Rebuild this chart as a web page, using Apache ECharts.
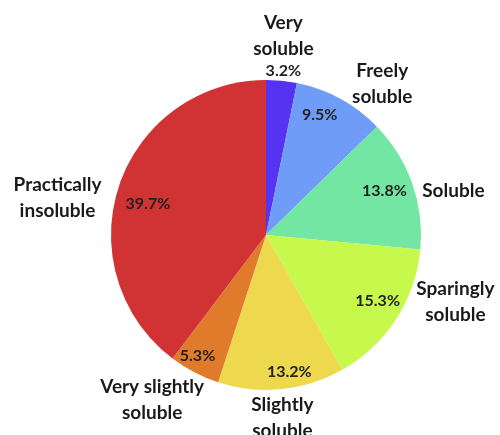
<!DOCTYPE html>
<html>
<head>
<meta charset="utf-8">
<script src="https://cdn.jsdelivr.net/npm/echarts@6/dist/echarts.min.js"></script>
<style>
  html, body { margin: 0; padding: 0; background: #fff; }
  #chart { width: 500px; height: 435px; }
</style>
</head>
<body>
<div id="chart"></div>
<script>
// Solubility classes, clockwise from 12 o'clock
const categories = [
  'Very\nsoluble',
  'Freely\nsoluble',
  'Soluble',
  'Sparingly\nsoluble',
  'Slightly\nsoluble',
  'Very slightly\nsoluble',
  'Practically\ninsoluble'
];
const shares = [3.2, 9.5, 13.8, 15.3, 13.2, 5.3, 39.7];
const colors = ['#5533f0', '#6e9cf7', '#73e6a4', '#c6f94c', '#eed84e', '#e07b2c', '#d13233'];

// small nudges for the label text (dx, dy)
const pctNudge = [[4, -32], [-10, -3], [-7, 0], [0, -6], [10, 5], [-7, 3], [8, 11]];
const nameNudge = [[-3, 3], [19, 27], [-4, 24], [19, -43], [-4, -19], [-20, -15], [-16, 28]];

const center = ['53.2%', '54%'];
const font = 'Lato, "Open Sans", sans-serif';

const sliceData = shares.map((v, i) => ({ value: v, name: categories[i], itemStyle: { color: colors[i] } }));
const ghostData = shares.map((v, i) => ({ value: v, name: categories[i] }));

const chart = echarts.init(document.getElementById('chart'), null, { renderer: 'canvas' });
chart.setOption({
  animation: false,
  series: [
    {
      type: 'pie',
      center: center,
      radius: [0, 155],
      startAngle: 90,
      clockwise: true,
      silent: true,
      data: sliceData,
      label: { show: false },
      labelLine: { show: false },
      itemStyle: { borderWidth: 0 }
    },
    {
      // percentage labels
      type: 'pie',
      center: center,
      radius: [100, 160],
      startAngle: 90,
      clockwise: true,
      silent: true,
      data: ghostData,
      itemStyle: { color: 'rgba(0,0,0,0)' },
      label: {
        show: true,
        position: 'inside',
        formatter: p => p.value.toFixed(1) + '%',
        fontFamily: font,
        fontWeight: 'bold',
        fontSize: 16,
        color: '#222'
      },
      labelLine: { show: false },
      labelLayout: p => ({ dx: pctNudge[p.dataIndex][0], dy: pctNudge[p.dataIndex][1] })
    },
    {
      // category labels
      type: 'pie',
      center: center,
      radius: [170, 230],
      startAngle: 90,
      clockwise: true,
      silent: true,
      data: ghostData,
      itemStyle: { color: 'rgba(0,0,0,0)' },
      label: {
        show: true,
        position: 'inside',
        formatter: '{b}',
        fontFamily: font,
        fontWeight: 'bold',
        fontSize: 19,
        lineHeight: 26,
        color: '#1a1a1a',
        align: 'center'
      },
      labelLine: { show: false },
      labelLayout: p => ({ dx: nameNudge[p.dataIndex][0], dy: nameNudge[p.dataIndex][1] })
    }
  ]
});
</script>
</body>
</html>
